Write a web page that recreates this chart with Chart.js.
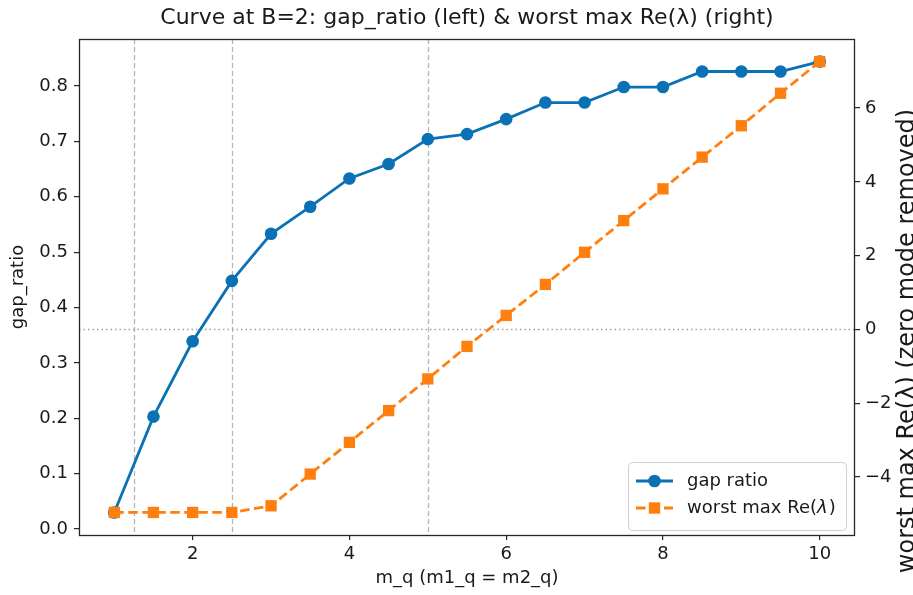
<!DOCTYPE html>
<html>
<head>
<meta charset="utf-8">
<script src="https://cdn.jsdelivr.net/npm/chart.js@4.4.1/dist/chart.umd.min.js"></script>
<style>
  html, body { margin: 0; padding: 0; background: #ffffff; overflow: hidden; }
  #wrap { width: 913px; height: 595px; position: relative; }
</style>
</head>
<body>
<div id="wrap"><canvas id="c" width="913" height="595"></canvas></div>
<script>
// ---- data ----
const mq = [1, 1.5, 2, 2.5, 3, 3.5, 4, 4.5, 5, 5.5, 6, 6.5, 7, 7.5, 8, 8.5, 9, 9.5, 10];
const gapRatio = [0.030, 0.203, 0.339, 0.448, 0.533, 0.582, 0.633, 0.659, 0.704, 0.713,
                  0.740, 0.770, 0.770, 0.798, 0.798, 0.826, 0.826, 0.826, 0.844];
const worstRe = [-4.96, -4.96, -4.96, -4.96, -4.78, -3.92, -3.06, -2.20, -1.34, -0.46,
                 0.38, 1.22, 2.09, 2.95, 3.81, 4.67, 5.52, 6.40, 7.26];
const xTicks = [2, 4, 6, 8, 10];
const leftTicks = [0.0, 0.1, 0.2, 0.3, 0.4, 0.5, 0.6, 0.7, 0.8];
const rightTicks = [-4, -2, 0, 2, 4, 6];
const vLines = [1.25, 2.5, 5.0];
const hLinesRight = [0];
const titleText = "Curve at B=2: gap_ratio (left) & worst max Re(λ) (right)";
const xLabel = "m_q (m1_q = m2_q)";
const leftLabel = "gap_ratio";
const rightLabel = "worst max Re(λ) (zero mode removed)";
const seriesNames = ["gap ratio", "worst max Re(λ)"];

const BLUE = "#0a72b4";
const ORANGE = "#ff7f0e";
const FONT = "'DejaVu Sans', sans-serif";
const FS = 18;
const TXT = "#1a1a1a";

function padRange(arr, frac) {
  const mn = Math.min(...arr), mx = Math.max(...arr);
  const d = (mx - mn) * frac;
  return [mn - d, mx + d];
}
const xr = padRange(mq, 0.05);
const lr = padRange(gapRatio, 0.05);
const rr = padRange(worstRe, 0.05);

const fmtMinus = v => (v < 0 ? "\u2212" + Math.abs(v) : String(v));

const overlay = {
  id: "overlay",
  beforeDatasetsDraw(chart) {
    const ctx = chart.ctx, a = chart.chartArea;
    const xs = chart.scales.x, yr = chart.scales.yR;
    ctx.save();
    ctx.beginPath(); ctx.rect(a.left, a.top, a.right - a.left, a.bottom - a.top); ctx.clip();
    ctx.strokeStyle = "#b4b4b4"; ctx.lineWidth = 1.3; ctx.setLineDash([5, 3]);
    vLines.forEach(v => {
      const px = Math.round(xs.getPixelForValue(v)) + 0.5;
      ctx.beginPath(); ctx.moveTo(px, a.top); ctx.lineTo(px, a.bottom); ctx.stroke();
    });
    ctx.strokeStyle = "#a0a0a0"; ctx.lineWidth = 1.3; ctx.setLineDash([1.5, 3]);
    hLinesRight.forEach(v => {
      const py = Math.round(yr.getPixelForValue(v)) + 0.5;
      ctx.beginPath(); ctx.moveTo(a.left, py); ctx.lineTo(a.right, py); ctx.stroke();
    });
    ctx.restore();
  },
  afterDraw(chart) {
    const ctx = chart.ctx, a = chart.chartArea;
    ctx.save();
    // frame
    ctx.strokeStyle = "#262626"; ctx.lineWidth = 1.3; ctx.setLineDash([]);
    ctx.strokeRect(a.left + 0.5, a.top + 0.5, a.right - a.left - 1, a.bottom - a.top);
    // title
    ctx.fillStyle = TXT;
    ctx.font = "22px " + FONT;
    ctx.textAlign = "center"; ctx.textBaseline = "middle";
    ctx.fillText(titleText, (a.left + a.right) / 2, 18);
    // x label
    ctx.font = FS + "px " + FONT;
    ctx.fillText(xLabel, (a.left + a.right) / 2, 578);
    // left label
    ctx.save();
    ctx.translate(18, (a.top + a.bottom) / 2);
    ctx.rotate(-Math.PI / 2);
    ctx.fillText(leftLabel, 0, 0);
    ctx.restore();
    // right label (clipped at the figure edge as in the reference)
    ctx.save();
    ctx.translate(896, 341);
    ctx.rotate(-Math.PI / 2);
    ctx.textBaseline = "top";
    ctx.font = "24px " + FONT;
    ctx.fillText(rightLabel, 0, 0);
    ctx.restore();
    // legend
    const bx = 628, by = 462, bw = 218, bh = 68;
    ctx.beginPath();
    ctx.roundRect(bx + 0.5, by + 0.5, bw, bh, 4);
    ctx.fillStyle = "rgba(255,255,255,0.85)"; ctx.fill();
    ctx.strokeStyle = "#d0d0d0"; ctx.lineWidth = 1; ctx.stroke();
    const rows = [481, 508];
    // row 1
    ctx.strokeStyle = BLUE; ctx.lineWidth = 2.8;
    ctx.beginPath(); ctx.moveTo(636, rows[0]); ctx.lineTo(673, rows[0]); ctx.stroke();
    ctx.fillStyle = BLUE;
    ctx.beginPath(); ctx.arc(654.5, rows[0], 6.3, 0, Math.PI * 2); ctx.fill();
    // row 2
    ctx.strokeStyle = ORANGE; ctx.setLineDash([9.5, 4.5]);
    ctx.beginPath(); ctx.moveTo(636, rows[1]); ctx.lineTo(673, rows[1]); ctx.stroke();
    ctx.setLineDash([]);
    ctx.fillStyle = ORANGE;
    ctx.fillRect(654.5 - 5.7, rows[1] - 5.7, 11.4, 11.4);
    ctx.fillStyle = TXT; ctx.textAlign = "left"; ctx.textBaseline = "middle";
    ctx.font = FS + "px " + FONT;
    ctx.fillText(seriesNames[0], 687, rows[0]);
    // "worst max Re(" + italic λ + ")"
    const pre = "worst max Re(", lam = "λ", post = ")";
    let tx = 687;
    ctx.fillText(pre, tx, rows[1]); tx += ctx.measureText(pre).width;
    ctx.font = "italic " + FS + "px " + FONT;
    ctx.fillText(lam, tx, rows[1]); tx += ctx.measureText(lam).width + 1;
    ctx.font = FS + "px " + FONT;
    ctx.fillText(post, tx, rows[1]);
    ctx.restore();
  }
};

const tickGrid = { display: true, drawOnChartArea: false, drawTicks: true, tickLength: 5, color: "#262626", lineWidth: 1.2 };
const tickFont = { family: FONT, size: FS };

new Chart(document.getElementById("c"), {
  type: "line",
  data: {
    datasets: [
      {
        label: seriesNames[0],
        data: mq.map((x, i) => ({ x: x, y: gapRatio[i] })),
        yAxisID: "yL",
        borderColor: BLUE, backgroundColor: BLUE,
        borderWidth: 2.8, pointRadius: 6.3, pointHoverRadius: 6.3,
        pointStyle: "circle", pointBorderWidth: 0, tension: 0, order: 1
      },
      {
        label: seriesNames[1],
        data: mq.map((x, i) => ({ x: x, y: worstRe[i] })),
        yAxisID: "yR",
        borderColor: ORANGE, backgroundColor: ORANGE,
        borderWidth: 2.8, borderDash: [9.5, 4.5], pointRadius: 8, pointHoverRadius: 8,
        pointStyle: "rect", pointBorderWidth: 0, tension: 0, order: 0
      }
    ]
  },
  options: {
    responsive: false,
    animation: false,
    events: [],
    layout: { padding: { top: 39, left: 0, right: 0, bottom: 0 } },
    plugins: { legend: { display: false }, title: { display: false }, tooltip: { enabled: false } },
    scales: {
      x: {
        type: "linear", position: "bottom", min: xr[0], max: xr[1],
        grid: tickGrid, border: { display: false },
        ticks: { font: tickFont, color: TXT, padding: 4, maxRotation: 0 },
        afterBuildTicks: s => { s.ticks = xTicks.map(v => ({ value: v })); },
        afterFit: s => { s.height = 60; }
      },
      yL: {
        type: "linear", position: "left", min: lr[0], max: lr[1],
        grid: tickGrid, border: { display: false },
        ticks: { font: tickFont, color: TXT, padding: 6, callback: v => Number(v).toFixed(1) },
        afterBuildTicks: s => { s.ticks = leftTicks.map(v => ({ value: v })); },
        afterFit: s => { s.width = 79; }
      },
      yR: {
        type: "linear", position: "right", min: rr[0], max: rr[1],
        grid: tickGrid, border: { display: false },
        ticks: { font: tickFont, color: TXT, padding: 5, callback: v => fmtMinus(v) },
        afterBuildTicks: s => { s.ticks = rightTicks.map(v => ({ value: v })); },
        afterFit: s => { s.width = 58; }
      }
    }
  },
  plugins: [overlay]
});
</script>
</body>
</html>
